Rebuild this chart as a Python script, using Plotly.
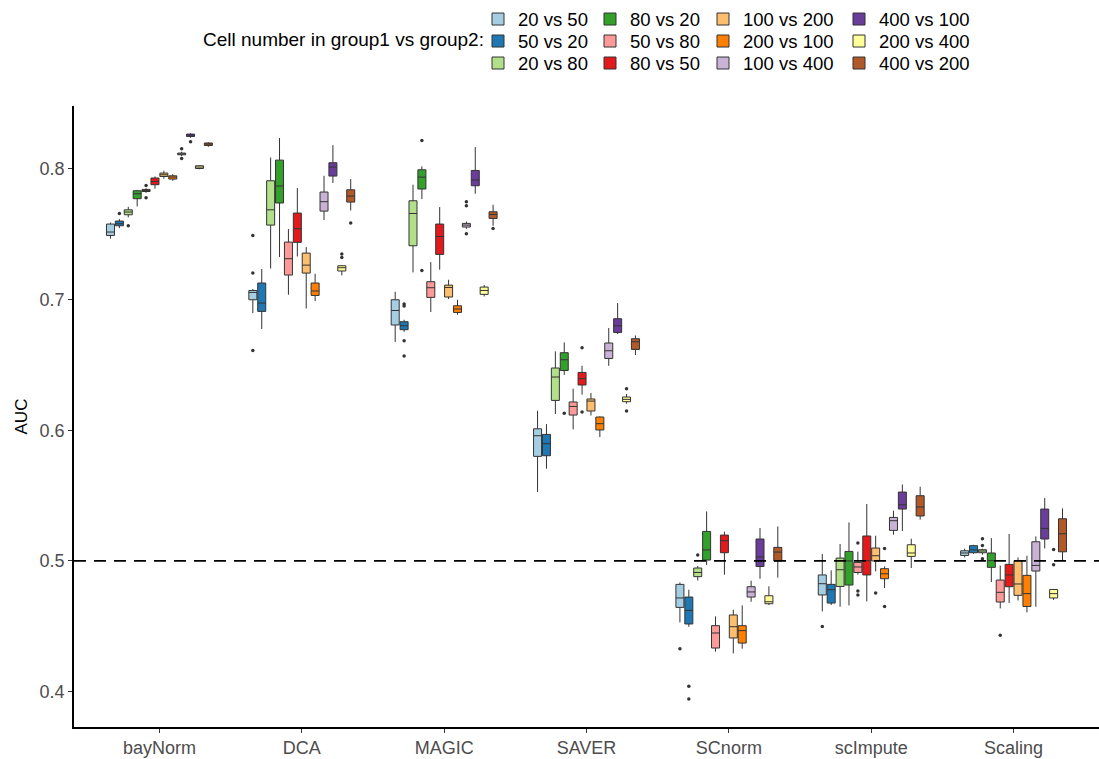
import plotly.graph_objects as go

methods = ["bayNorm", "DCA", "MAGIC", "SAVER", "SCnorm", "scImpute", "Scaling"]
groups = ["20 vs 50", "50 vs 20", "20 vs 80", "80 vs 20", "50 vs 80", "80 vs 50",
          "100 vs 200", "200 vs 100", "100 vs 400", "400 vs 100", "200 vs 400", "400 vs 200"]
colors = ["#A6CEE3", "#1F78B4", "#B2DF8A", "#33A02C", "#FB9A99", "#E31A1C",
          "#FDBF6F", "#FF7F00", "#CAB2D6", "#6A3D9A", "#FFFF99", "#B15928"]

# rows = groups, columns = methods
lower = [
    [.7465, .6896, .6675, .5527, .4530, .4614, .5027],
    [.7546, .6774, .6753, .5706, .4497, .4663, .5055],
    [.7628, .7237, .7207, .6124, .4851, .4650, .5048],
    [.7712, .7325, .7768, .6424, .4969, .4660, .4839],
    [.7816, .7036, .6904, .6007, .4306, .4895, .4637],
    [.7847, .7329, .7228, .6272, .4895, .4691, .4678],
    [.7924, .6931, .7003, .6113, .4293, .4920, .4698],
    [.7908, .6988, .6883, .5948, .4329, .4793, .4607],
    [.8096, .7608, .7541, .6493, .4688, .5201, .4650],
    [.8237, .7891, .7809, .6736, .4864, .5229, .5096],
    [.7996, .7184, .7023, .6203, .4663, .4946, .4701],
    [.8168, .7681, .7564, .6575, .4872, .5316, .5002],
]
q1 = [
    [.7490, .6998, .6805, .5800, .4645, .4740, .5042],
    [.7564, .6909, .6769, .5805, .4518, .4678, .5063],
    [.7648, .7569, .7411, .6228, .4880, .4805, .5063],
    [.7771, .7738, .7845, .6457, .5007, .4816, .4951],
    [.7826, .7187, .7016, .6116, .4334, .4912, .4686],
    [.7878, .7437, .7345, .6346, .5063, .4893, .4803],
    [.7941, .7202, .7019, .6147, .4411, .5000, .4737],
    [.7921, .7031, .6901, .6002, .4372, .4864, .4652],
    [.8107, .7676, .7554, .6549, .4724, .5234, .4923],
    [.8247, .7944, .7870, .6748, .4958, .5397, .5168],
    [.8002, .7218, .7039, .6218, .4673, .5035, .4717],
    [.8178, .7745, .7620, .6618, .4999, .5344, .5070],
]
median = [
    [.7516, .7054, .6916, .5958, .4717, .4826, .5061],
    [.7579, .6973, .6799, .5897, .4622, .4780, .5084],
    [.7669, .7686, .7658, .6407, .4912, .4933, .5076],
    [.7809, .7868, .7936, .6539, .5084, .5000, .5002],
    [.7834, .7312, .7090, .6182, .4449, .4954, .4760],
    [.7903, .7541, .7482, .6394, .5155, .5002, .4893],
    [.7954, .7263, .7092, .6223, .4497, .5040, .4824],
    [.7936, .7065, .6927, .6050, .4467, .4902, .4750],
    [.8113, .7748, .7569, .6608, .4763, .5308, .4966],
    [.8258, .8013, .7914, .6799, .5030, .5430, .5249],
    [.8013, .7243, .7069, .6236, .4688, .5061, .4750],
    [.8189, .7791, .7650, .6677, .5068, .5413, .5208],
]
q3 = [
    [.7577, .7069, .6998, .6011, .4821, .4893, .5078],
    [.7600, .7126, .6830, .5968, .4724, .4821, .5117],
    [.7686, .7908, .7755, .6476, .4946, .5022, .5086],
    [.7832, .8066, .7992, .6593, .5226, .5073, .5061],
    [.7842, .7439, .7136, .6216, .4505, .4989, .4854],
    [.7929, .7661, .7577, .6442, .5198, .5191, .4974],
    [.7967, .7355, .7110, .6239, .4587, .5099, .5002],
    [.7946, .7126, .6952, .6101, .4505, .4941, .4890],
    [.8120, .7822, .7582, .6667, .4803, .5333, .5147],
    [.8265, .8046, .7987, .6853, .5168, .5527, .5397],
    [.8023, .7258, .7095, .6254, .4734, .5124, .4782],
    [.8197, .7839, .7671, .6700, .5104, .5499, .5323],
]
upper = [
    [.7589, .7080, .7059, .6149, .4836, .5053, .5094],
    [.7615, .7233, .6845, .6047, .4780, .4928, .5124],
    [.7709, .8086, .7878, .6603, .4961, .5130, .5094],
    [.7838, .8235, .8018, .6672, .5379, .5295, .5175],
    [.7851, .7539, .7286, .6318, .4576, .5071, .4964],
    [.7941, .7852, .7707, .6493, .5224, .5436, .5206],
    [.7985, .7401, .7151, .6285, .4627, .5193, .5027],
    [.7959, .7197, .6998, .6106, .4660, .4958, .5040],
    [.8130, .7946, .7596, .6782, .4849, .5384, .5188],
    [.8272, .8181, .8166, .6973, .5252, .5585, .5481],
    [.8027, .7262, .7111, .6277, .4806, .5170, .4785],
    [.8203, .7921, .7725, .6725, .5264, .5568, .5402],
]
# outliers: (group index, method index, value)
outliers = [
    (0, 1, .749), (0, 1, .7202), (0, 1, .661), (0, 4, .4329), (0, 5, .4499),
    (1, 0, .7658), (1, 2, .6965), (1, 2, .695), (1, 2, .6685), (1, 2, .6567),
    (1, 4, .4041), (1, 4, .3944),
    (2, 0, .7564), (2, 4, .5046), (2, 6, .517), (2, 6, .5119), (2, 6, .5017),
    (3, 2, .8216), (3, 2, .7222), (3, 3, .6129),
    (4, 0, .7872), (4, 0, .7778), (4, 5, .5137), (4, 5, .477), (4, 5, .474), (4, 6, .4431),
    (5, 3, .6631), (5, 3, .6139),
    (6, 5, .4755),
    (7, 5, .5096), (7, 5, .4652),
    (8, 0, .8153), (8, 0, .8079), (8, 2, .7748), (8, 2, .7717), (8, 2, .7503),
    (9, 0, .8206),
    (10, 1, .7348), (10, 1, .7322), (10, 3, .6317), (10, 3, .6147), (10, 6, .5088), (10, 6, .4971),
    (11, 1, .7585), (11, 2, .7543),
]

DODGE = 0.75
NG = len(groups)
step = DODGE / NG
BOXW = step * 0.9


def offset(g):
    return (g - (NG - 1) / 2) * step


W, H = 1099, 759
ML, MR, MT, MB = 74, 0, 106, 32
pw, ph = W - ML - MR, H - MT - MB


def px2x(px):
    return (px - ML) / pw


def px2y(py):
    return (H - MB - py) / ph


LEG_FONT = 18.5
legend_cols_px = [478, 590, 703, 839]   # left edge of each legend column
legend_rows_px = [0.5, 22.5, 44.5]       # top edge of each legend row

fig = go.Figure()
layout_legends = {}
for g, name in enumerate(groups):
    key = "legend" if g == 0 else f"legend{g + 1}"
    col, row = g // 3, g % 3
    layout_legends[key] = dict(
        orientation="v", yanchor="top", xanchor="left",
        x=px2x(legend_cols_px[col]), y=px2y(legend_rows_px[row]),
        font=dict(size=LEG_FONT, color="black", family="Liberation Sans, Arial"),
        bgcolor="rgba(0,0,0,0)")
    xs = [m + offset(g) for m in range(len(methods))]
    fig.add_trace(go.Box(
        x=xs, q1=q1[g], median=median[g], q3=q3[g],
        lowerfence=lower[g], upperfence=upper[g],
        name=name, fillcolor=colors[g],
        line=dict(color="#333333", width=1),
        whiskerwidth=0, width=BOXW, boxpoints=False,
        legend=key,
    ))

fig.add_trace(go.Scatter(
    x=[m + offset(g) for g, m, v in outliers],
    y=[v for g, m, v in outliers],
    mode="markers", marker=dict(color="#333333", size=3.5),
    showlegend=False, hoverinfo="y",
))

fig.update_layout(
    width=W, height=H,
    margin=dict(l=ML, r=MR, t=MT, b=MB),
    paper_bgcolor="white", plot_bgcolor="white",
    boxmode="overlay",
    font=dict(family="Liberation Sans, Arial", size=15, color="black"),
    showlegend=True,
    **layout_legends,
    xaxis=dict(range=[-0.6, len(methods) - 0.4], tickvals=list(range(len(methods))),
               ticktext=methods, showline=True, linecolor="black", linewidth=1.5,
               ticks="outside", ticklen=4, tickcolor="#333333", tickwidth=1,
               tickfont=dict(size=18, color="#4D4D4D"), showgrid=False, zeroline=False),
    yaxis=dict(range=[0.373, 0.848], tickvals=[0.4, 0.5, 0.6, 0.7, 0.8],
               tickformat=".1f", showline=True, linecolor="black", linewidth=1.5,
               ticks="outside", ticklen=4, tickcolor="#333333", tickwidth=1,
               tickfont=dict(size=18, color="#4D4D4D"), showgrid=False, zeroline=False,
               title=dict(text="AUC", font=dict(size=17, color="black"), standoff=8)),
    shapes=[dict(type="line", xref="paper", x0=0, x1=1, yref="y", y0=0.5, y1=0.5,
                 line=dict(color="black", width=1.8, dash="12px,8px"))],
    annotations=[dict(text="Cell number in group1 vs group2:", xref="paper", yref="paper",
                      x=px2x(486), y=px2y(40), xanchor="right", yanchor="middle",
                      showarrow=False, font=dict(size=19, color="black"))],
)

fig.write_html("out.html")
